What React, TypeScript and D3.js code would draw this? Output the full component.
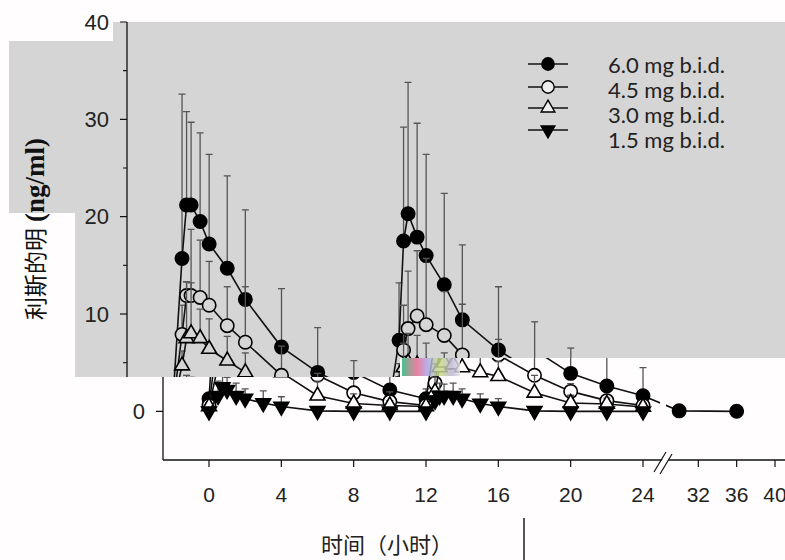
import * as d3 from 'd3';
import React, { useEffect, useRef } from 'react';

// sampling times (h) of the two doses
const times = [0, 0.5, 0.75, 1, 1.5, 2, 3, 4, 6, 8, 10, 12, 12.5, 12.75, 13, 13.5, 14, 15, 16, 18, 20, 22, 24];
const timesLong = [...times, 30, 36];

const mean60 = [1.3, 15.7, 21.2, 21.2, 19.5, 17.2, 14.7, 11.5, 6.6, 4.0, 2.2, 1.3, 7.3, 17.5, 20.3, 17.9, 16.0, 13.0, 9.4, 6.3, 3.9, 2.6, 1.6, 0.05, 0.0];
const sd60 = [0.5, 16.9, 9.6, 8.5, 9.1, 9.2, 9.5, 9.2, 6.0, 4.6, 3.0, 1.0, 5.9, 11.7, 13.5, 11.7, 10.4, 9.4, 7.7, 6.5, 5.3, 3.9, 2.9, 0, 0];

const mean45 = [0.6, 7.9, 11.9, 11.9, 11.7, 10.9, 8.8, 7.1, 3.7, 1.9, 1.0, 0.6, 2.9, 6.3, 8.5, 9.8, 8.9, 7.8, 5.8, 3.7, 2.05, 1.1, 0.6];
const sd45 = [0.3, 3.0, 1.4, 6.8, 5.9, 4.5, 4.0, 5.7, 3.0, 2.0, 1.0, 0.4, 2.0, 4.6, 5.9, 6.7, 6.8, 4.5, 5.2, 3.7, 0.8, 0.5, 0.3];

const mean30 = [0.5, 4.7, 7.5, 8.0, 7.5, 6.4, 5.2, 4.0, 1.6, 0.8, 0.6, 0.5, 2.0, 4.5, 5.0, 4.8, 4.5, 4.0, 3.6, 1.9, 0.85, 0.75, 0.45];
const sd30 = [0.3, 1.5, 5.8, 5.2, 3.0, 3.1, 2.5, 2.0, 1.5, 1.0, 0.5, 0.3, 1.5, 2.5, 3.0, 3.0, 2.5, 2.0, 1.5, 1.8, 0.8, 0.6, 0.4];

const mean15 = [0, 1.6, 2.5, 2.2, 1.6, 1.3, 0.85, 0.5, 0.05, 0, 0, 0, 1.1, 1.6, 1.6, 1.6, 1.3, 0.8, 0.5, 0.05, 0, 0, 0];
const sd15 = [0.1, 1.5, 1.2, 1.3, 1.3, 1.0, 1.25, 1.0, 0.3, 0.2, 0.2, 0.2, 1.0, 1.3, 1.2, 1.3, 1.0, 1.0, 0.8, 0.3, 0.2, 0.2, 0.2];

const seriesLabels = ['6.0 mg b.i.d.', '4.5 mg b.i.d.', '3.0 mg b.i.d.', '1.5 mg b.i.d.'];
const xTicks = [0, 4, 8, 12, 16, 20, 24, 32, 36, 40];
const yTicks = [0, 10, 20, 30, 40];
const yMinorTicks = [5, 15, 25, 35];
// which y tick labels each panel shows (the rest is covered)
const yLabelsWhite = [0];
const yLabelsGray = [10, 20, 30, 40];

type Marker = 'circleFilled' | 'circleOpen' | 'triangleOpen' | 'triangleDown';

interface Series {
  t: number[];
  mean: number[];
  sd: number[];
  marker: Marker;
}

const series: Series[] = [
  { t: timesLong, mean: mean60, sd: sd60, marker: 'circleFilled' },
  { t: times, mean: mean45, sd: sd45, marker: 'circleOpen' },
  { t: times, mean: mean30, sd: sd30, marker: 'triangleOpen' },
  { t: times, mean: mean15, sd: sd15, marker: 'triangleDown' },
];

const W = 785;
const H = 560;
const GRAY = '#d5d5d5';
const WHITE = '#fffdfe';
const SHIFT = 36; // the grey panel is a copy of the plot moved to the left
const tickFont = 'Liberation Sans, Arial, sans-serif';

const grayPoly: [number, number][] = [
  [113, 22], [785, 22], [785, 358], [400, 358], [400, 377], [75, 377], [75, 213], [9, 213], [9, 41], [113, 41],
];
const whitePoly: [number, number][] = [
  [0, 213], [75, 213], [75, 377], [400, 377], [400, 358], [785, 358], [785, 560], [0, 560],
];

const polyPath = (p: [number, number][]) => 'M' + p.map(d => d.join(',')).join('L') + 'Z';

const markerPath = (m: Marker, size: number) => {
  if (m === 'circleFilled' || m === 'circleOpen') return d3.symbol(d3.symbolCircle, size)()!;
  return d3.symbol(d3.symbolTriangle, size * 0.68)()!;
};

const App: React.FC = () => {
  const svgRef = useRef<SVGSVGElement>(null);

  useEffect(() => {
    if (!svgRef.current) return;
    const svg = d3.select(svgRef.current);
    svg.selectAll('*').remove();

    const x = d3.scaleLinear().domain([0, 24, 28, 40]).range([209, 643, 660, 775]);
    const y = d3.scaleLinear().domain([-5, 40]).range([460, 22]);
    const axisX = 163;
    const axisY = 460;

    const defs = svg.append('defs');
    defs.append('clipPath').attr('id', 'grayClip')
      .call(c => c.append('path').attr('d', polyPath(grayPoly)))
      .call(c => c.append('rect').attr('x', 70).attr('y', 6).attr('width', 57).attr('height', 35));
    defs.append('clipPath').attr('id', 'whiteClip')
      .append('path').attr('d', polyPath(whitePoly));

    svg.append('rect').attr('width', W).attr('height', H).attr('fill', WHITE);
    svg.append('path').attr('d', polyPath(grayPoly)).attr('fill', GRAY);

    const drawPlot = (
      g: d3.Selection<SVGGElement, unknown, null, undefined>,
      bg: string,
      yLabels: number[],
      withXAxis: boolean,
    ) => {
      // y axis
      g.append('line').attr('x1', axisX).attr('x2', axisX).attr('y1', y(40)).attr('y2', axisY)
        .attr('stroke', '#111').attr('stroke-width', 1.3);
      yTicks.forEach(v => {
        g.append('line').attr('x1', axisX - 7).attr('x2', axisX).attr('y1', y(v)).attr('y2', y(v))
          .attr('stroke', '#111').attr('stroke-width', 1.2);
      });
      yLabels.forEach(v => {
        g.append('text').attr('x', axisX - 18).attr('y', y(v)).attr('dy', '0.35em')
          .attr('text-anchor', 'end').attr('font-family', tickFont).attr('font-size', 22)
          .attr('fill', '#222').text(v);
      });
      yMinorTicks.forEach(v => {
        g.append('line').attr('x1', axisX - 4).attr('x2', axisX).attr('y1', y(v)).attr('y2', y(v))
          .attr('stroke', '#111').attr('stroke-width', 1.1);
      });

      if (withXAxis) {
        g.append('line').attr('x1', axisX).attr('x2', W).attr('y1', axisY).attr('y2', axisY)
          .attr('stroke', '#111').attr('stroke-width', 1.3);
        xTicks.forEach(v => {
          g.append('line').attr('x1', x(v)).attr('x2', x(v)).attr('y1', axisY).attr('y2', axisY + 7)
            .attr('stroke', '#111').attr('stroke-width', 1.2);
          g.append('text').attr('x', x(v)).attr('y', 502).attr('text-anchor', 'middle')
            .attr('font-family', tickFont).attr('font-size', 21).attr('fill', '#222').text(v);
        });
        // axis break
        g.append('path').attr('d', 'M656,471L667,451L672,453L661,473Z').attr('fill', '#fff');
        g.append('line').attr('x1', 654).attr('y1', 472).attr('x2', 666).attr('y2', 452).attr('stroke', '#111').attr('stroke-width', 1.2);
        g.append('line').attr('x1', 660).attr('y1', 474).attr('x2', 672).attr('y2', 454).attr('stroke', '#111').attr('stroke-width', 1.2);
      }

      series.forEach(s => {
        const pts = s.t.map((t, i) => ({ t, m: s.mean[i], sd: s.sd[i] }));
        // error bars (upper only)
        const eb = g.append('g').attr('stroke', '#555').attr('stroke-width', 1.3);
        pts.filter(p => p.sd > 0.05).forEach(p => {
          eb.append('line').attr('x1', x(p.t)).attr('x2', x(p.t)).attr('y1', y(p.m)).attr('y2', y(p.m + p.sd));
          eb.append('line').attr('x1', x(p.t) - 3.5).attr('x2', x(p.t) + 3.5)
            .attr('y1', y(p.m + p.sd)).attr('y2', y(p.m + p.sd));
        });
        // connecting line
        const path = d3.line<{ t: number; m: number }>().x(p => x(p.t)).y(p => y(p.m));
        g.append('path').attr('d', path(pts)).attr('fill', 'none')
          .attr('stroke', '#111').attr('stroke-width', 1.6);
        if (s.t.length > times.length) {
          // gap of the broken time axis
          g.append('rect').attr('x', 660).attr('y', y(3)).attr('width', 6).attr('height', y(-1) - y(3)).attr('fill', bg);
        }
        // markers
        const filled = s.marker === 'circleFilled' || s.marker === 'triangleDown';
        g.append('g').selectAll('path').data(pts).join('path')
          .attr('d', markerPath(s.marker, 140))
          .attr('transform', p => `translate(${x(p.t)},${y(p.m)})${s.marker === 'triangleDown' ? ' rotate(180)' : ''}`)
          .attr('fill', filled ? '#000' : bg)
          .attr('stroke', '#000').attr('stroke-width', 1.6);
      });
    };

    const white = svg.append('g').attr('clip-path', 'url(#whiteClip)');
    drawPlot(white, WHITE, yLabelsWhite, true);

    const gray = svg.append('g').attr('clip-path', 'url(#grayClip)')
      .append('g').attr('transform', `translate(${-SHIFT},0)`);
    drawPlot(gray, GRAY, yLabelsGray, false);

    // noisy patch of the reference
    const grad = defs.append('linearGradient').attr('id', 'noise');
    [['0', '#2fb57a'], ['0.25', '#e36a8e'], ['0.45', '#a8a6e6'], ['0.65', '#c7de7e'], ['0.85', '#bdb6d6'], ['1', '#e4e4e4']]
      .forEach(([o, c]) => grad.append('stop').attr('offset', o).attr('stop-color', c));
    svg.append('rect').attr('x', 402).attr('y', 358).attr('width', 58).attr('height', 18)
      .attr('fill', 'url(#noise)').attr('opacity', 0.85);

    // legend
    const legend = svg.append('g');
    const legendMarkY = [64, 87, 108, 130];
    const legendTextY = [65, 90, 115, 140];
    series.forEach((s, i) => {
      legend.append('line').attr('x1', 528).attr('x2', 568).attr('y1', legendMarkY[i]).attr('y2', legendMarkY[i])
        .attr('stroke', '#111').attr('stroke-width', 1.5);
      const filled = s.marker === 'circleFilled' || s.marker === 'triangleDown';
      legend.append('path').attr('d', markerPath(s.marker, 120))
        .attr('transform', `translate(548,${legendMarkY[i]})${s.marker === 'triangleDown' ? ' rotate(180)' : ''}`)
        .attr('fill', filled ? '#000' : '#eee').attr('stroke', '#000').attr('stroke-width', 1.4);
      legend.append('text').attr('x', 608).attr('y', legendTextY[i]).attr('dy', '0.35em')
        .attr('font-family', 'Lato, sans-serif').attr('font-size', 22).attr('fill', '#222')
        .text(seriesLabels[i]);
    });

    // y axis title
    const yt = svg.append('text').attr('transform', 'translate(44,320) rotate(-90)').attr('fill', '#111');
    yt.append('tspan').attr('font-family', 'Noto Sans CJK SC').attr('font-size', 23).text('利斯的明');
    yt.append('tspan').attr('font-family', 'Liberation Serif, serif').attr('font-weight', 'bold')
      .attr('font-size', 27).attr('dx', 6).text('(ng/ml)');

    // x axis title
    svg.append('text').attr('x', 387).attr('y', 553).attr('text-anchor', 'middle')
      .attr('font-family', 'Noto Sans CJK SC').attr('font-size', 22).attr('fill', '#222').text('时间（小时）');
    svg.append('line').attr('x1', 524).attr('x2', 524).attr('y1', 518).attr('y2', H)
      .attr('stroke', '#555').attr('stroke-width', 2);
  }, []);

  return (
    <svg ref={svgRef} width={W} height={H} style={{ position: 'absolute', left: 0, top: 0 }} />
  );
};

export default App;
